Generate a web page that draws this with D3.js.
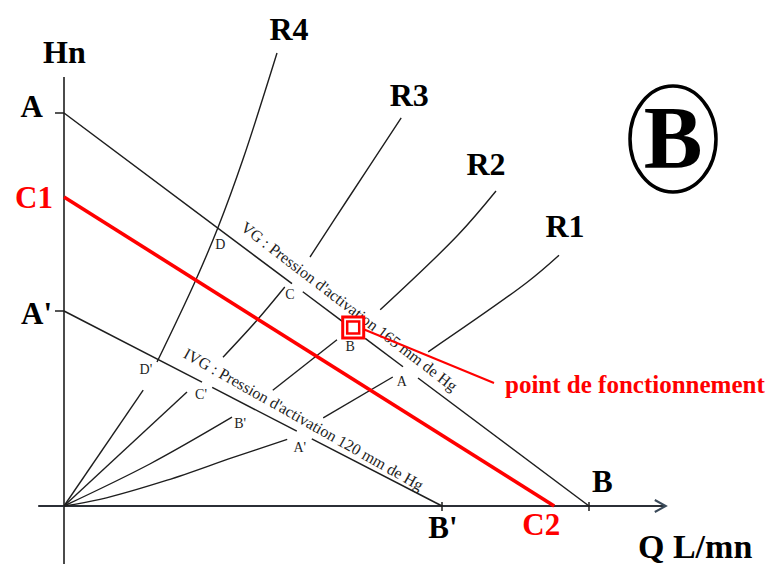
<!DOCTYPE html>
<html><head><meta charset="utf-8">
<script src="https://cdn.jsdelivr.net/npm/d3@7"></script>
<style>html,body{margin:0;padding:0;background:#fff;} svg{display:block;}</style>
</head><body>
<svg id="chart" width="768" height="564"></svg>
<script>
// ---------------- DATA (Q in L/mn units, Hn in arbitrary units) ----------------
const curveNames = ["R1", "R2", "R3", "R4"];
// visible pieces of each resistance curve, [Q, Hn]
const r1Segments = [
  [[0,0],[6,1.1],[17.2,4.3],[28.2,8.1],[37.2,11.1]],
  [[43.2,14.7],[54.8,21.5]],
  [[60.7,25.7],[77.2,37.3],[82.5,41.8]]
];
const r2Segments = [
  [[0,0],[14.3,7],[28,14.8]],
  [[34.8,19.3],[45.5,27.7]],
  [[52.7,32.7],[65.7,45.2],[72,52.5]]
];
const r3Segments = [
  [[0,0],[20.5,19]],
  [[26.5,24.8],[32.2,31],[36.8,36.5]],
  [[41,41.5],[47.2,51],[56.2,64.7]]
];
const r4Segments = [
  [[0,0],[13.2,19.3]],
  [[15.5,24],[21.8,37.3],[25.7,46.5],[29.8,57.7],[35.5,75.5]]
];

// straight pump lines: Hn intercept, Q intercept, visible Q ranges
const lineNames = ["A-B", "A'-B'", "C1-C2"];
const lineStartLabels = ["A", "A'", "C1"];
const lineEndLabels = ["B", "B'", "C2"];
const lineHnIntercept = [65.5, 32.5, 51.5];
const lineQIntercept = [87.5, 63, 81.7];
const lineVisibleQ = [
  [[0,38],[39.8,46.5],[50.2,56.5],[59,87.5]],
  [[0,23],[24.7,38.8],[41.3,63]],
  [[0,81.7]]
];

// intersections of curves with lines
const crossLabels = ["D", "C", "B", "A", "D'", "C'", "B'", "A'"];
const crossLine   = [0, 0, 0, 0, 1, 1, 1, 1];
const crossQ      = [25.7, 37.5, 48.2, 56.8, 15.7, 22.5, 30.7, 39.3];

const vgText  = "VG : Pression d'activation 165 mm de Hg";
const ivgText = "IVG : Pression d'activation 120 mm de Hg";
const opText  = "point de fonctionnement";
const opLabel = "B";
const xTitle = "Q L/mn";
const yTitle = "Hn";
const badge = "B";

// ---------------- LAYOUT ----------------
const svg = d3.select("#chart");
const x = d3.scaleLinear().domain([0, 100]).range([64, 664]);
const y = d3.scaleLinear().domain([0, 80]).range([506, 26]);
const ink = "#1e1e1e", red = "#ff0000";
const serif = "'Liberation Serif','Times New Roman',serif";
const hnOnLine = (i, q) => lineHnIntercept[i] * (1 - q / lineQIntercept[i]);

svg.append("rect").attr("width", 768).attr("height", 564).attr("fill", "#fff");

// axes
svg.append("line").attr("x1", x(0)).attr("x2", x(0)).attr("y1", y(71.5)).attr("y2", 564)
  .attr("stroke", ink).attr("stroke-width", 1.6);
svg.append("line").attr("x1", x(-4.3)).attr("x2", x(100.3)).attr("y1", y(0)).attr("y2", y(0))
  .attr("stroke", "#2b2f36").attr("stroke-width", 2);
svg.append("path")
  .attr("d", `M${x(100.3)-11},${y(0)-6} L${x(100.3)},${y(0)} L${x(100.3)-11},${y(0)+6}`)
  .attr("fill", "none").attr("stroke", "#3a4a5a").attr("stroke-width", 2);

// small ticks at intercepts
[0, 1].forEach(i => {
  svg.append("line").attr("x1", x(0) - 9).attr("x2", x(0)).attr("y1", y(lineHnIntercept[i])).attr("y2", y(lineHnIntercept[i]))
    .attr("stroke", ink).attr("stroke-width", 1.5);
  svg.append("line").attr("x1", x(lineQIntercept[i])).attr("x2", x(lineQIntercept[i])).attr("y1", y(0) - 4).attr("y2", y(0) + 5)
    .attr("stroke", ink).attr("stroke-width", 1.5);
});

// resistance curves
const curveGen = d3.line().x(d => x(d[0])).y(d => y(d[1])).curve(d3.curveCatmullRom.alpha(0.5));
[r1Segments, r2Segments, r3Segments, r4Segments].forEach(segs => {
  svg.append("g").selectAll("path").data(segs).join("path")
    .attr("d", curveGen).attr("fill", "none").attr("stroke", ink).attr("stroke-width", 1.4);
});

// pump lines
const straight = d3.line().x(d => x(d[0])).y(d => y(d[1]));
lineVisibleQ.forEach((ranges, i) => {
  svg.append("g").selectAll("path").data(ranges).join("path")
    .attr("d", r => straight([[r[0], hnOnLine(i, r[0])], [r[1], hnOnLine(i, r[1])]]))
    .attr("fill", "none")
    .attr("stroke", i === 2 ? red : ink)
    .attr("stroke-width", i === 2 ? 3.6 : 1.5);
});

// rotated line captions
function lineAngle(i) {
  const dx = x(lineQIntercept[i]) - x(0), dy = y(0) - y(lineHnIntercept[i]);
  return Math.atan2(dy, dx) * 180 / Math.PI;
}
const captions = [
  {text: vgText, line: 0, q: 29.3, lift: 15, tilt: 0.6, size: 16},
  {text: ivgText, line: 1, q: 19.7, lift: 15, tilt: 2.2, size: 16}
];
captions.forEach(c => {
  const px = x(c.q), py = y(hnOnLine(c.line, c.q)) - c.lift;
  svg.append("text").attr("transform", `translate(${px},${py}) rotate(${lineAngle(c.line) + c.tilt})`)
    .attr("font-family", serif).attr("font-size", c.size).attr("fill", ink).text(c.text);
});

// intersection labels
const crossOffsets = {"D":[2,21,"middle"],"C":[1,18,"middle"],"B":[-3,22,"middle"],"A":[-3,18,"middle"],
  "D'":[-6,14,"end"],"C'":[2,18,"middle"],"B'":[-8,22,"middle"],"A'":[0,19,"middle"]};
crossLabels.forEach((lab, k) => {
  const q = crossQ[k], h = hnOnLine(crossLine[k], q);
  const o = crossOffsets[lab];
  svg.append("text").attr("x", x(q) + o[0]).attr("y", y(h) + o[1]).attr("text-anchor", o[2])
    .attr("font-family", serif).attr("font-size", 14).attr("fill", ink).text(lab);
});

// operating point marker
const opK = crossLabels.indexOf(opLabel);
const opX = x(crossQ[opK]), opY = y(hnOnLine(crossLine[opK], crossQ[opK])) - 2;
svg.append("rect").attr("x", opX - 10.5).attr("y", opY - 10.5).attr("width", 21).attr("height", 21)
  .attr("fill", "#fff").attr("stroke", red).attr("stroke-width", 3);
svg.append("rect").attr("x", opX - 6).attr("y", opY - 6).attr("width", 12).attr("height", 12)
  .attr("fill", "#fff").attr("stroke", red).attr("stroke-width", 2.5);
const opTextX = 505, opTextY = 393;
svg.append("line").attr("x1", opX + 11).attr("y1", opY + 2).attr("x2", opTextX - 11).attr("y2", opTextY - 10)
  .attr("stroke", red).attr("stroke-width", 2);
svg.append("text").attr("x", opTextX).attr("y", opTextY).attr("font-family", serif).attr("font-weight", "bold")
  .attr("font-size", 25).attr("fill", red).text(opText);

// big labels at line ends
const bigFont = 31;
const startOffsets = {"A":[-21,4], "A'":[-12,13], "C1":[-11,11]};
lineStartLabels.forEach((lab, i) => {
  const o = startOffsets[lab];
  svg.append("text").attr("x", x(0) + o[0]).attr("y", y(lineHnIntercept[i]) + o[1]).attr("text-anchor", "end")
    .attr("font-family", serif).attr("font-weight", "bold").attr("font-size", bigFont)
    .attr("fill", i === 2 ? red : "#000").text(lab);
});
const endOffsets = {"B":[3,-14,"start"], "B'":[1,32,"middle"], "C2":[-13,29,"middle"]};
lineEndLabels.forEach((lab, i) => {
  const o = endOffsets[lab];
  svg.append("text").attr("x", x(lineQIntercept[i]) + o[0]).attr("y", y(0) + o[1]).attr("text-anchor", o[2])
    .attr("font-family", serif).attr("font-weight", "bold").attr("font-size", bigFont)
    .attr("fill", i === 2 ? red : "#000").text(lab);
});

// curve names
const curveTops = [r1Segments, r2Segments, r3Segments, r4Segments].map(s => { const seg = s[s.length-1]; return seg[seg.length-1]; });
const curveNameOffsets = [[6,-18],[-10,-16],[8,-12],[12,-13]];
curveNames.forEach((n, i) => {
  svg.append("text").attr("x", x(curveTops[i][0]) + curveNameOffsets[i][0]).attr("y", y(curveTops[i][1]) + curveNameOffsets[i][1])
    .attr("text-anchor", "middle").attr("font-family", serif).attr("font-weight", "bold").attr("font-size", 32)
    .attr("fill", "#000").text(n);
});

// axis titles
svg.append("text").attr("x", 43).attr("y", 63).attr("font-family", serif).attr("font-weight", "bold")
  .attr("font-size", 32).attr("fill", "#000").text(yTitle);
svg.append("text").attr("x", 638).attr("y", 558).attr("font-family", serif).attr("font-weight", "bold")
  .attr("font-size", 34).attr("fill", "#000").text(xTitle);

// badge
svg.append("ellipse").attr("cx", 673).attr("cy", 139).attr("rx", 43).attr("ry", 53)
  .attr("fill", "none").attr("stroke", "#000").attr("stroke-width", 3.5);
svg.append("text").attr("x", 673).attr("y", 167).attr("text-anchor", "middle").attr("font-family", serif)
  .attr("font-weight", "bold").attr("font-size", 88).attr("fill", "#000").text(badge);
</script>
</body></html>
